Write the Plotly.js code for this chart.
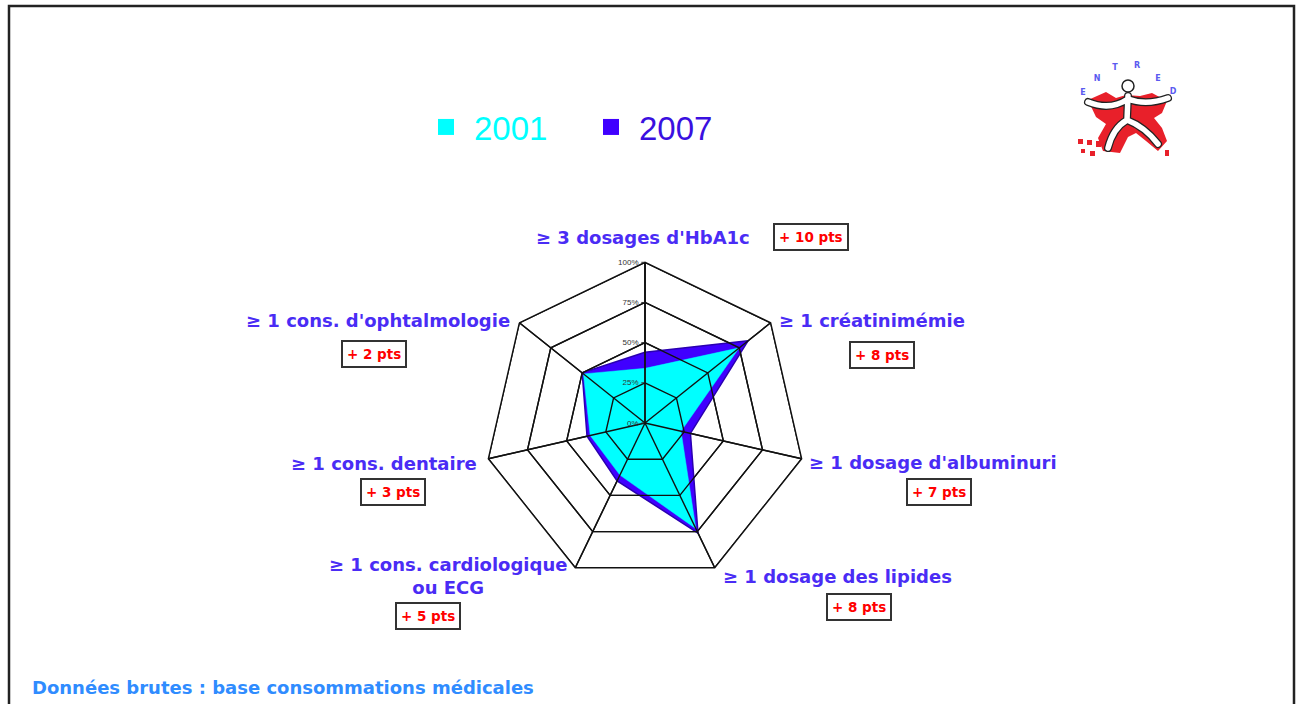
<!DOCTYPE html>
<html>
<head>
<meta charset="utf-8">
<script src="https://cdn.plot.ly/plotly-3.0.1.min.js"></script>
<style>
html,body{margin:0;padding:0;background:#fff;}
#chart{width:1301px;height:704px;}
</style>
</head>
<body>
<div id="chart"></div>
<script>
// ---- data ----
const categories = ["≥ 3 dosages d'HbA1c", "≥ 1 créatinimémie", "≥ 1 dosage d'albuminuri", "≥ 1 dosage des lipides", "≥ 1 cons. cardiologique<br>ou ECG", "≥ 1 cons. dentaire", "≥ 1 cons. d'ophtalmologie"];
const years = ["2001", "2007"];
const values2001 = [34, 75, 23, 73, 36, 35, 49];
const values2007 = [44, 82, 29, 76, 40, 37, 50];
const gains = ["+ 10 pts", "+ 8 pts", "+ 7 pts", "+ 8 pts", "+ 5 pts", "+ 3 pts", "+ 2 pts"];
const radialTicks = [0, 25, 50, 75, 100];
const radialTickText = ["0%", "25%", "50%", "75%", "100%"];
const footnote = "Données brutes : base consommations médicales";

// ---- layout helpers (positions in page pixels) ----
const W = 1301, H = 704;
const px = x => x / W;
const py = y => 1 - y / H;
const labelPos = [
  {x: 643, y: 237, xa: 'center'},
  {x: 777, y: 320, xa: 'left'},
  {x: 807, y: 462, xa: 'left'},
  {x: 721, y: 576, xa: 'left'},
  {x: 569, y: 576, xa: 'right'},
  {x: 479, y: 463, xa: 'right'},
  {x: 512, y: 320, xa: 'right'}
];
const gainPos = [
  {x: 811, y: 237}, {x: 882, y: 355}, {x: 939, y: 492}, {x: 859, y: 607},
  {x: 428, y: 616}, {x: 393, y: 492}, {x: 374, y: 354}
];

const cyan = '#00ffff', violet = '#4000ff', labelColor = '#4a2cf5';
const close = arr => arr.concat([arr[0]]);

const traces = [];
traces.push({
  type: 'scatterpolar', r: close(values2007), theta: close(categories),
  mode: 'lines', fill: 'toself', fillcolor: violet,
  line: {color: '#2a00b0', width: 1.5}, showlegend: false, hoverinfo: 'skip'
});
traces.push({
  type: 'scatterpolar', r: close(values2001), theta: close(categories),
  mode: 'lines', fill: 'toself', fillcolor: cyan,
  line: {color: cyan, width: 0.5}, showlegend: false, hoverinfo: 'skip'
});
// grid drawn over the filled areas
radialTicks.slice(1).forEach(v => {
  traces.push({
    type: 'scatterpolar', r: close(categories.map(() => v)), theta: close(categories),
    mode: 'lines', line: {color: '#111', width: 1.4}, showlegend: false, hoverinfo: 'skip'
  });
});
categories.forEach(c => {
  traces.push({
    type: 'scatterpolar', r: [0, radialTicks[radialTicks.length - 1]], theta: [c, c],
    mode: 'lines', line: {color: '#111', width: 1.4}, showlegend: false, hoverinfo: 'skip'
  });
});
// legend entries (single point outside the radial range, clipped away)
const legendColors = [cyan, violet];
const legendTextColors = [cyan, '#3a10e0'];
years.forEach((y, i) => {
  traces.push({type: 'scatterpolar', r: [1000], theta: [categories[0]], mode: 'markers',
    cliponaxis: true, hoverinfo: 'skip',
    name: '<span style="color:' + legendTextColors[i] + '">' + y + '</span>',
    marker: {symbol: 'square', size: 16, color: legendColors[i]}});
});

const annotations = [];
categories.forEach((c, i) => {
  annotations.push({
    xref: 'paper', yref: 'paper', x: px(labelPos[i].x), y: py(labelPos[i].y),
    xanchor: labelPos[i].xa, yanchor: 'middle', text: c, showarrow: false, align: 'center',
    font: {family: 'DejaVu Sans, sans-serif', size: 18, weight: 'bold', color: labelColor}
  });
  annotations.push({
    xref: 'paper', yref: 'paper', x: px(gainPos[i].x), y: py(gainPos[i].y),
    xanchor: 'center', yanchor: 'middle', text: gains[i], showarrow: false,
    bgcolor: '#ffffff', bordercolor: '#333', borderwidth: 2, borderpad: 4,
    font: {family: 'DejaVu Sans, sans-serif', size: 13.5, weight: 'bold', color: '#ff0000'}
  });
});
annotations.push({
  xref: 'paper', yref: 'paper', x: px(30), y: py(687), xanchor: 'left', yanchor: 'middle',
  text: footnote, showarrow: false,
  font: {family: 'DejaVu Sans, sans-serif', size: 18, weight: 'bold', color: '#2f8cff'}
});

const logoSvg = `<svg xmlns="http://www.w3.org/2000/svg" width="110" height="105" viewBox="1070 55 110 105">
<path d="M1088,100 L1106,92 L1116,98 L1126,95 L1140,96 L1152,93 L1167,101 L1162,113 L1154,118 L1162,128 L1167,141 L1158,151 L1146,141 L1136,133 L1128,137 L1120,153 L1103,151 L1098,138 L1106,124 L1096,117 Z" fill="#e8202a"/>
<rect x="1078" y="139" width="5" height="5" fill="#e8202a"/><rect x="1087" y="140" width="5" height="5" fill="#e8202a"/>
<rect x="1096" y="141" width="5" height="6" fill="#e8202a"/><rect x="1081" y="149" width="4" height="4" fill="#e8202a"/>
<rect x="1090" y="151" width="5" height="5" fill="#e8202a"/><rect x="1165" y="150" width="4" height="6" fill="#e8202a"/>
<g fill="none" stroke-linecap="round" stroke-linejoin="round">
<path d="M1088,102 Q1110,111 1128,99 Q1146,106 1168,98 M1128,96 L1127,120 M1127,120 Q1113,128 1108,148 M1127,120 Q1145,127 1158,144" stroke="#222" stroke-width="8"/>
<path d="M1088,102 Q1110,111 1128,99 Q1146,106 1168,98 M1128,96 L1127,120 M1127,120 Q1113,128 1108,148 M1127,120 Q1145,127 1158,144" stroke="#fff" stroke-width="5.5"/>
</g>
<circle cx="1128" cy="86" r="6" fill="#fff" stroke="#222" stroke-width="1.5"/>
<g fill="#5a5af0" font-family="DejaVu Sans" font-size="8" font-weight="bold" text-anchor="middle">
<text x="1083" y="95">E</text><text x="1097" y="81">N</text><text x="1115" y="70">T</text>
<text x="1137" y="68">R</text><text x="1158" y="81">E</text><text x="1173" y="94">D</text>
</g></svg>`;

const layout = {
  width: W, height: H,
  margin: {l: 0, r: 0, t: 0, b: 0},
  paper_bgcolor: '#ffffff',
  showlegend: true,
  legend: {
    orientation: 'h', x: px(418), y: py(127), xanchor: 'left', yanchor: 'middle',
    font: {family: 'Liberation Sans, Arial, sans-serif', size: 33},
    bgcolor: 'rgba(0,0,0,0)', itemwidth: 46, entrywidth: 104, entrywidthmode: 'pixels'
  },
  polar: {
    domain: {x: [px(484.3), px(805.7)], y: [py(583.7), py(262.3)]},
    gridshape: 'linear',
    bgcolor: 'rgba(0,0,0,0)',
    angularaxis: {
      type: 'category', rotation: 90, direction: 'clockwise',
      showticklabels: false, ticks: '', showgrid: true, gridcolor: '#111', gridwidth: 1.4,
      showline: true, linecolor: '#111', linewidth: 1.4
    },
    radialaxis: {
      range: [0, 100], tickvals: radialTicks, ticktext: radialTickText, angle: 90, tickangle: 90,
      side: 'counterclockwise', showline: true, linecolor: '#111', linewidth: 1.4,
      showgrid: true, gridcolor: '#111', gridwidth: 1.4, ticks: 'outside', ticklen: 3, tickcolor: '#333',
      tickfont: {family: 'Liberation Sans, Arial, sans-serif', size: 8, color: '#333'}
    }
  },
  annotations: annotations,
  shapes: [{
    type: 'rect', xref: 'paper', yref: 'paper', x0: px(9), x1: px(1294), y0: py(740), y1: py(6),
    line: {color: '#222', width: 2.5}, fillcolor: 'rgba(0,0,0,0)'
  }],
  images: [{
    source: 'data:image/svg+xml;charset=utf-8,' + encodeURIComponent(logoSvg),
    xref: 'paper', yref: 'paper', x: px(1070), y: py(55), sizex: 110 / W, sizey: 105 / H,
    xanchor: 'left', yanchor: 'top', sizing: 'stretch', layer: 'above'
  }]
};

Plotly.newPlot('chart', traces, layout, {displayModeBar: false, staticPlot: true});
</script>
</body>
</html>
